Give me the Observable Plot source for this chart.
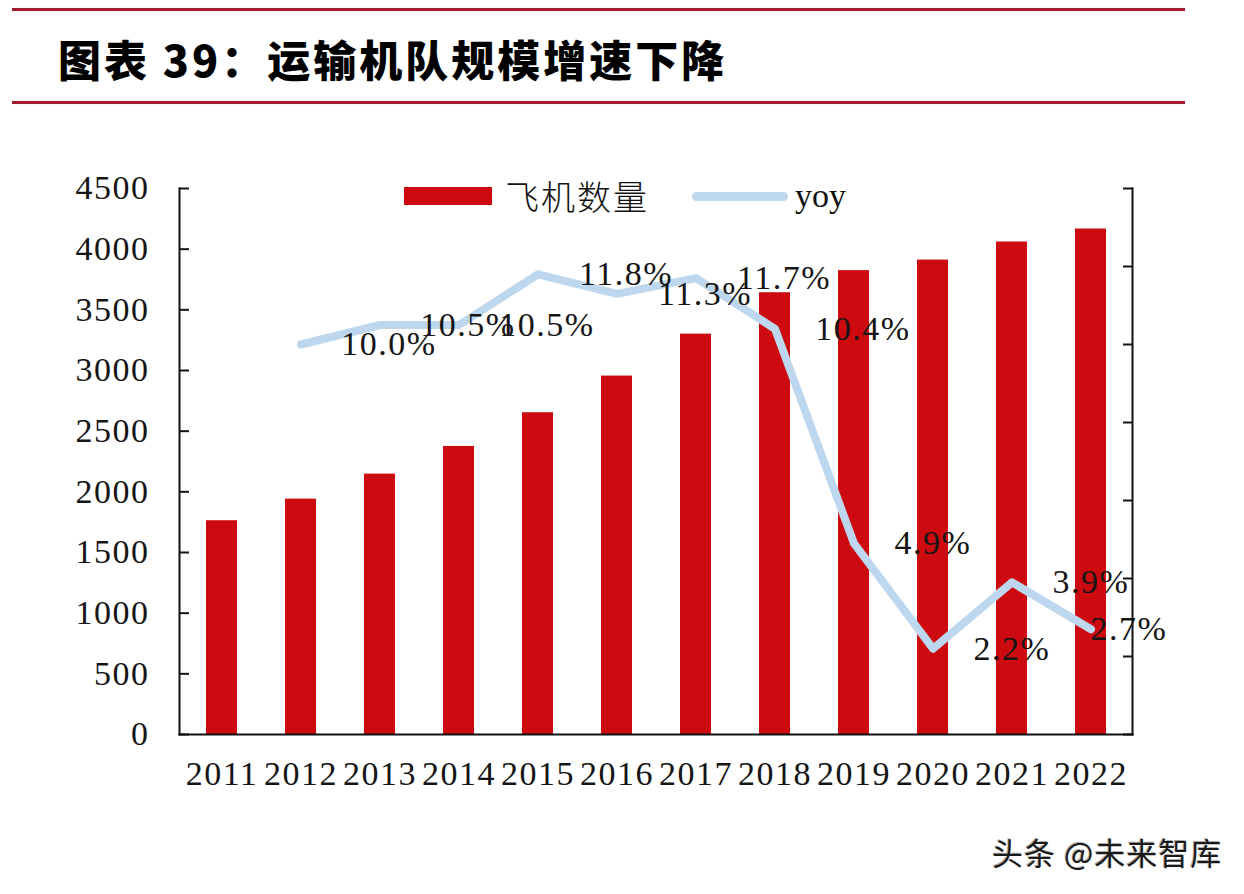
<!DOCTYPE html>
<html><head><meta charset="utf-8">
<script src="https://cdn.jsdelivr.net/npm/d3@7"></script>
<script src="https://cdn.jsdelivr.net/npm/@observablehq/plot@0.6"></script>
<style>
body{margin:0;background:#fff;}
#wrap{position:relative;width:1244px;height:894px;overflow:hidden;background:#fff;}
#head{position:relative;height:120px;}
.rule{position:absolute;left:12px;width:1173px;height:3px;background:#a51931;box-shadow:0 0 1px #e8a0a8;}
#title{position:absolute;left:58px;top:30px;font-family:"Noto Sans CJK SC";font-weight:900;font-size:43px;line-height:56px;color:#000;letter-spacing:3px;white-space:nowrap;}
.leg{position:absolute;}
.legtxt{position:absolute;font-size:34px;line-height:40px;color:#111;white-space:nowrap;}
#wm{position:absolute;left:992px;top:832px;font-family:"Noto Sans CJK SC";font-size:31px;line-height:40px;color:#1a1a1a;letter-spacing:1px;text-shadow:1px 1px 0 #fff,-1px -1px 0 #aaa;white-space:nowrap;}
</style></head>
<body>
<div id="wrap">
  <div id="head">
    <div class="rule" style="top:8px"></div>
    <div id="title">图表 39：运输机队规模增速下降</div>
    <div class="rule" style="top:101px"></div>
  </div>
  <div id="chart"></div>
  <div class="leg" style="left:404px;top:187px;width:88px;height:18px;background:#cc0a10"></div>
  <div class="legtxt" style="left:505px;top:176px;font-family:'Noto Sans CJK SC';font-weight:300;letter-spacing:2px;">飞机数量</div>
  <div class="leg" style="left:692px;top:192px;width:96px;height:9px;border-radius:5px;background:#bdd7ee"></div>
  <div class="legtxt" style="left:795px;top:176px;font-family:'Liberation Serif';">yoy</div>
  <div id="wm">头条 @未来智库</div>
</div>
<script>
const years = ["2011","2012","2013","2014","2015","2016","2017","2018","2019","2020","2021","2022"];
const fleet = [1762,1940,2146,2374,2652,2954,3300,3641,3823,3910,4059,4166];
const yoy = [null,10.0,10.5,10.5,11.8,11.3,11.7,10.4,4.9,2.2,3.9,2.7];
const leftTicks = [0,500,1000,1500,2000,2500,3000,3500,4000,4500];
const rightTicks = [0,2,4,6,8,10,12,14];

const k = 4500 / 14; // right axis (0–14%) mapped onto left scale
const rows = years.map((y, i) => ({year: y, fleet: fleet[i], yoy: yoy[i]}));
const yoyRows = rows.filter(d => d.yoy != null);
const lbl = d => d.yoy.toFixed(1) + "%";
const serif = "Liberation Serif";

const chart = Plot.plot({
  width: 1244,
  height: 774,
  marginLeft: 179,
  marginRight: 112,
  marginTop: 68,
  marginBottom: 160,
  style: {fontFamily: serif, fontSize: "34px", color: "#151515", background: "transparent", letterSpacing: "1.5px"},
  x: {type: "band", domain: years, paddingInner: 0.61, paddingOuter: 0.305, label: null},
  y: {domain: [0, 4500], label: null},
  marks: [
    Plot.barY(rows, {x: "year", y: "fleet", fill: "#cc0a10"}),
    Plot.line(yoyRows, {x: "year", y: d => d.yoy * k, stroke: "#bdd7ee", strokeWidth: 8, strokeLinecap: "round", strokeLinejoin: "round"}),
    Plot.text(yoyRows.filter(d => +d.year <= 2018), {x: "year", y: d => d.yoy * k, text: lbl, dx: 88, fontSize: 34, fill: "#151515"}),
    Plot.text(yoyRows.filter(d => +d.year >= 2019 && +d.year <= 2021), {x: "year", y: d => d.yoy * k, text: lbl, dx: 79, fontSize: 34, fill: "#151515"}),
    Plot.text(yoyRows.filter(d => +d.year === 2022), {x: "year", y: d => d.yoy * k, text: lbl, dx: 38, fontSize: 34, fill: "#151515"}),
    Plot.axisY({anchor: "left", ticks: leftTicks, tickSize: 10, dx: 10, tickPadding: 30, strokeWidth: 2, fontSize: 34, tickFormat: d => String(d), label: null}),
    Plot.axisY({anchor: "right", ticks: rightTicks.map(v => v * k), tickSize: 10, dx: -10, tickFormat: () => "", strokeWidth: 2, label: null}),
    Plot.axisX({tickSize: 0, tickPadding: 26, fontSize: 34, label: null}),
    Plot.frame({anchor: "left", strokeWidth: 2, stroke: "#111"}),
    Plot.frame({anchor: "right", strokeWidth: 2, stroke: "#111"}),
    Plot.frame({anchor: "bottom", strokeWidth: 2, stroke: "#111"})
  ]
});
document.getElementById("chart").appendChild(chart);
</script>
</body></html>
